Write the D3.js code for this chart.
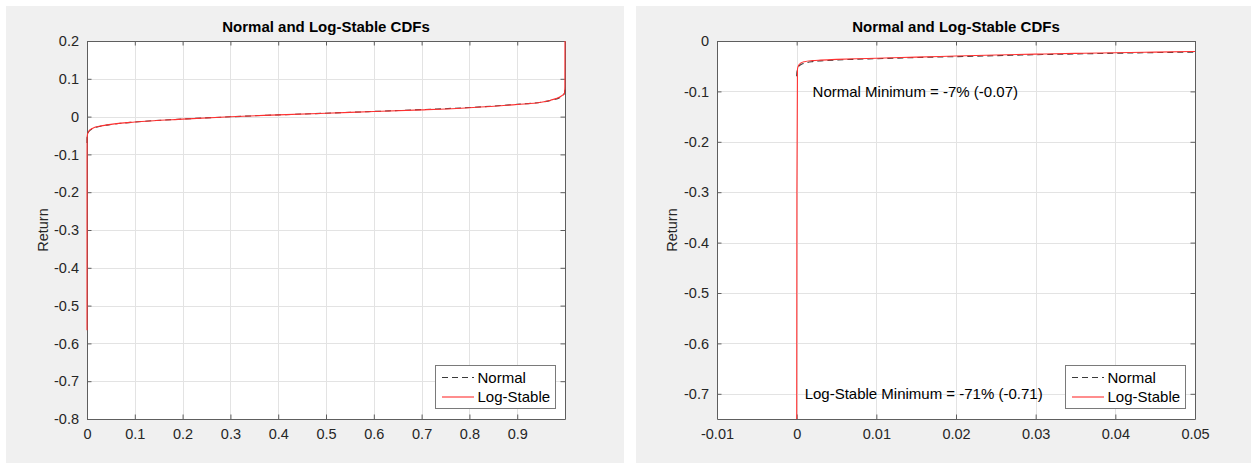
<!DOCTYPE html>
<html>
<head>
  <meta charset='utf-8'>
  <title>Normal and Log-Stable CDFs</title>
  <script src="https://cdnjs.cloudflare.com/ajax/libs/d3/7.8.5/d3.min.js"></script>
  <style>
    html, body {
      margin: 0;
      padding: 0;
      background: white;
      font-family: 'Liberation Sans', Arial, sans-serif;
    }
  </style>
</head>
<body>
  <svg id="mySVG"></svg>
  <script>
    // full range quantiles (left panel)
    const fullProb = [0, 0.00005, 0.0002, 0.001, 0.003, 0.01, 0.03, 0.05, 0.1, 0.2, 0.3, 0.4, 0.5, 0.6, 0.7, 0.8, 0.9, 0.95, 0.97, 0.99, 0.995, 0.999, 0.9997, 0.99995];
    const fullNormal = [-0.07, -0.062, -0.056, -0.048, -0.041, -0.033, -0.025, -0.021, -0.0145, -0.0065, -0.0005, 0.0045, 0.009, 0.0136, 0.0185, 0.024, 0.0325, 0.038, 0.043, 0.051, 0.055, 0.063, 0.068, 0.075];
    const fullLogStable = [-0.565, -0.12, -0.06, -0.047, -0.04, -0.032, -0.0245, -0.0205, -0.0143, -0.0066, -0.0004, 0.0045, 0.009, 0.0133, 0.0178, 0.0235, 0.0322, 0.038, 0.0435, 0.0527, 0.057, 0.062, 0.08, 0.25];

    // lower tail zoom (right panel)
    const zoomProb = [0, 0.00003, 0.0001, 0.0002, 0.0005, 0.001, 0.002, 0.003, 0.005, 0.0075, 0.01, 0.015, 0.02, 0.025, 0.03, 0.035, 0.04, 0.045, 0.05];
    const zoomNormal = [-0.07, -0.062, -0.057, -0.052, -0.047, -0.044, -0.041, -0.0395, -0.0377, -0.0362, -0.0352, -0.0328, -0.031, -0.029, -0.0272, -0.0257, -0.0243, -0.023, -0.022];
    const zoomLogStable = [-0.8, -0.3, -0.056, -0.05, -0.044, -0.041, -0.039, -0.038, -0.0365, -0.0352, -0.0343, -0.032, -0.0298, -0.0278, -0.026, -0.0246, -0.0232, -0.022, -0.0208];

    const leftXTicks = [0, 0.1, 0.2, 0.3, 0.4, 0.5, 0.6, 0.7, 0.8, 0.9];
    const leftYTicks = [0.2, 0.1, 0, -0.1, -0.2, -0.3, -0.4, -0.5, -0.6, -0.7, -0.8];
    const rightXTicks = [-0.01, 0, 0.01, 0.02, 0.03, 0.04, 0.05];
    const rightYTicks = [0, -0.1, -0.2, -0.3, -0.4, -0.5, -0.6, -0.7];

    const seriesNames = ["Normal", "Log-Stable"];
    const minNotes = ["Normal Minimum = -7% (-0.07)", "Log-Stable Minimum = -71% (-0.71)"];

    const width = 1251;
    const height = 464;
    const figGray = "#f0f0f0";
    const axisColor = "#5e5e5e";
    const textColor = "#262626";
    const gridColor = "#e3e3e3";
    const normalColor = "#3a3a3a";
    const stableColor = "#ff3030";

    const svg = d3.select('#mySVG')
      .attr('width', width)
      .attr('height', height);

    svg.append('rect').attr('width', width).attr('height', height).attr('fill', 'white');

    const panels = [
      {
        bg: [6, 6, 618, 457],
        box: [87, 41, 565, 419],
        xDomain: [0, 0.99995], yDomain: [-0.8, 0.2],
        xTicks: leftXTicks, yTicks: leftYTicks,
        prob: fullProb, normal: fullNormal, stable: fullLogStable,
        notes: [],
        legend: [435, 365],
        ylabelX: 43
      },
      {
        bg: [636, 6, 615, 457],
        box: [717, 41, 1195, 419],
        xDomain: [-0.01, 0.05], yDomain: [-0.75, 0],
        xTicks: rightXTicks, yTicks: rightYTicks,
        prob: zoomProb, normal: zoomNormal, stable: zoomLogStable,
        notes: [{ text: minNotes[0], x: 0.002, y: -0.1 }, { text: minNotes[1], x: 0.001, y: -0.7 }],
        legend: [1065, 365],
        ylabelX: 672
      }
    ];

    panels.forEach((p, idx) => drawPanel(p, idx));

    function drawPanel(p, idx) {
      const [x0, y0, x1, y1] = p.box;
      const g = svg.append('g');

      g.append('rect')
        .attr('x', p.bg[0]).attr('y', p.bg[1])
        .attr('width', p.bg[2]).attr('height', p.bg[3])
        .attr('fill', figGray);

      g.append('rect')
        .attr('x', x0).attr('y', y0)
        .attr('width', x1 - x0).attr('height', y1 - y0)
        .attr('fill', 'white');

      const x = d3.scaleLinear().domain(p.xDomain).range([x0, x1]);
      const y = d3.scaleLinear().domain(p.yDomain).range([y1, y0]);

      // grid
      g.append('g').selectAll('line.gx')
        .data(p.xTicks).join('line')
        .attr('x1', d => Math.round(x(d)) + 0.5).attr('x2', d => Math.round(x(d)) + 0.5)
        .attr('y1', y0).attr('y2', y1)
        .attr('stroke', gridColor);
      g.append('g').selectAll('line.gy')
        .data(p.yTicks).join('line')
        .attr('y1', d => Math.round(y(d)) + 0.5).attr('y2', d => Math.round(y(d)) + 0.5)
        .attr('x1', x0).attr('x2', x1)
        .attr('stroke', gridColor);

      // axes with inward ticks on all four sides
      const tickLen = 4.5;
      const fmt = d => d3.format('')(+d.toFixed(3)).replace('−', '-');
      const xAxisB = d3.axisBottom(x).tickValues(p.xTicks).tickSizeInner(-tickLen).tickSizeOuter(0).tickPadding(10).tickFormat(fmt);
      const xAxisT = d3.axisTop(x).tickValues(p.xTicks).tickSizeInner(-tickLen).tickSizeOuter(0).tickFormat('');
      const yAxisL = d3.axisLeft(y).tickValues(p.yTicks).tickSizeInner(-tickLen).tickSizeOuter(0).tickPadding(8).tickFormat(fmt);
      const yAxisR = d3.axisRight(y).tickValues(p.yTicks).tickSizeInner(-tickLen).tickSizeOuter(0).tickFormat('');

      const axes = [
        g.append('g').attr('transform', `translate(0,${y1})`).call(xAxisB),
        g.append('g').attr('transform', `translate(0,${y0})`).call(xAxisT),
        g.append('g').attr('transform', `translate(${x0},0)`).call(yAxisL),
        g.append('g').attr('transform', `translate(${x1},0)`).call(yAxisR)
      ];
      axes.forEach(a => {
        a.selectAll('path, line').attr('stroke', axisColor);
        a.selectAll('text')
          .attr('fill', textColor)
          .style('font-size', '14.5px')
          .style('font-family', "'Liberation Sans', Arial, sans-serif");
      });

      // lines on top of the box, clipped to the axes area
      const clipId = 'clip' + idx;
      svg.append('clipPath').attr('id', clipId)
        .append('rect').attr('x', x0 - 1).attr('y', y0).attr('width', x1 - x0 + 2).attr('height', y1 - y0);

      const line = d3.line()
        .x(d => x(d[0]))
        .y(d => y(d[1]))
        .curve(d3.curveMonotoneX);

      const plot = g.append('g').attr('clip-path', `url(#${clipId})`);
      plot.append('path')
        .attr('d', line(p.prob.map((v, i) => [v, p.normal[i]])))
        .attr('fill', 'none')
        .attr('stroke', normalColor)
        .attr('stroke-width', 1.1)
        .attr('stroke-dasharray', '6,4');
      plot.append('path')
        .attr('d', line(p.prob.map((v, i) => [v, p.stable[i]])))
        .attr('fill', 'none')
        .attr('stroke', stableColor)
        .attr('stroke-width', 1.1);

      // title and label
      g.append('text')
        .attr('x', (x0 + x1) / 2).attr('y', 32)
        .attr('text-anchor', 'middle')
        .style('font-size', '15px').style('font-weight', 'bold')
        .attr('fill', 'black')
        .text('Normal and Log-Stable CDFs');

      g.append('text')
        .attr('transform', `translate(${p.ylabelX + 5},${(y0 + y1) / 2}) rotate(-90)`)
        .attr('text-anchor', 'middle')
        .style('font-size', '14.5px')
        .attr('fill', textColor)
        .text('Return');

      // min notes
      g.selectAll('text.note')
        .data(p.notes).join('text')
        .attr('x', d => x(d.x)).attr('y', d => y(d.y))
        .attr('dy', '0.35em')
        .style('font-size', '15px')
        .attr('fill', 'black')
        .text(d => d.text);

      // legend
      const [lx, ly] = p.legend;
      const lg = g.append('g').attr('transform', `translate(${lx},${ly})`);
      lg.append('rect')
        .attr('x', 0.5).attr('y', 0.5)
        .attr('width', 120).attr('height', 43)
        .attr('fill', 'white').attr('stroke', '#7a7a7a');
      seriesNames.forEach((name, i) => {
        const cy = 12.5 + i * 19.5;
        lg.append('line')
          .attr('x1', 7).attr('x2', 39).attr('y1', cy).attr('y2', cy)
          .attr('stroke', i == 0 ? normalColor : stableColor)
          .attr('stroke-width', 1.1)
          .attr('stroke-dasharray', i == 0 ? '6,4' : null);
        lg.append('text')
          .attr('x', 42.5).attr('y', cy).attr('dy', '0.35em')
          .style('font-size', '15px')
          .attr('fill', 'black')
          .text(name);
      });
    }
  </script>
</body>
</html>
